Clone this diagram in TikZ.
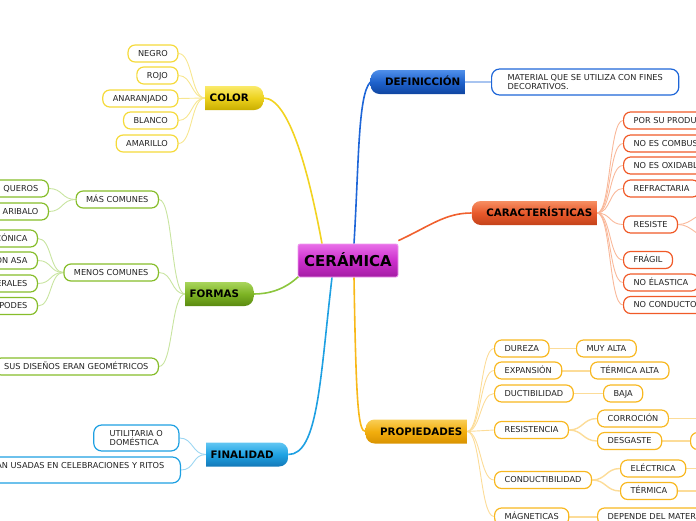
\documentclass[tikz,border=0pt]{standalone}
\usepackage{fontspec}
\setmainfont{DejaVu Sans}
\usetikzlibrary{calc}
\pgfdeclarelayer{bg}
\pgfsetlayers{bg,main}
% branch colours (top, middle, bottom), leaf borders, light twigs, root lines
\definecolor{yT}{HTML}{FAEA6A}\definecolor{yM}{HTML}{EDD21E}\definecolor{yB}{HTML}{C9AE00}
\definecolor{yLeaf}{HTML}{F5DA3A}\definecolor{yTwig}{HTML}{F7E690}\definecolor{yRoot}{HTML}{F2D320}
\definecolor{gT}{HTML}{A9D55C}\definecolor{gM}{HTML}{7DB324}\definecolor{gB}{HTML}{5A8A10}
\definecolor{gLeaf}{HTML}{86BD2A}\definecolor{gTwig}{HTML}{C8E4A0}\definecolor{gRoot}{HTML}{8CC63E}
\definecolor{cT}{HTML}{62C6F3}\definecolor{cM}{HTML}{1FA3E3}\definecolor{cB}{HTML}{1478B8}
\definecolor{cLeaf}{HTML}{1EA0E2}\definecolor{cTwig}{HTML}{9CD6F2}\definecolor{cRoot}{HTML}{1EA0E2}
\definecolor{bT}{HTML}{4F8FEA}\definecolor{bM}{HTML}{1F62CC}\definecolor{bB}{HTML}{0F45A0}
\definecolor{bLeaf}{HTML}{1E66D8}\definecolor{bTwig}{HTML}{A8C4F0}\definecolor{bRoot}{HTML}{1E66D8}
\definecolor{oT}{HTML}{F68E62}\definecolor{oM}{HTML}{E8592B}\definecolor{oB}{HTML}{C4421A}
\definecolor{oLeaf}{HTML}{F05A28}\definecolor{oTwig}{HTML}{F9B89A}\definecolor{oRoot}{HTML}{F0602E}
\definecolor{pT}{HTML}{F9CE56}\definecolor{pM}{HTML}{F2AE0E}\definecolor{pB}{HTML}{D99200}
\definecolor{pLeaf}{HTML}{F8B820}\definecolor{pTwig}{HTML}{FCDC98}\definecolor{pRoot}{HTML}{F8B818}
\definecolor{mT}{HTML}{E86EE8}\definecolor{mM}{HTML}{CC2FCC}\definecolor{mB}{HTML}{A41CA4}
\definecolor{mEdge}{HTML}{EE9AEE}
\definecolor{txt}{HTML}{222222}
\begin{document}
\begin{tikzpicture}[x=1pt,y=-1pt,
  centre/.style={draw=mEdge, line width=0.8pt, rounded corners=2pt,
    top color=mT, bottom color=mB, middle color=mM,
    minimum width=100pt, inner xsep=0pt, inner ysep=0pt,
    text height=22pt, text depth=11pt,
    font=\bfseries\fontsize{15}{17}\selectfont},
  branchL/.style n args={3}{font=\bfseries\fontsize{10.3}{12}\selectfont,
    inner xsep=4.5pt, inner ysep=0pt, text height=15.6pt, text depth=8.4pt,
    path picture={\shade[top color=#1, bottom color=#3, middle color=#2, rounded corners=9pt]
      ([xshift=-12pt]path picture bounding box.south west) rectangle (path picture bounding box.north east);}},
  branchR/.style n args={3}{font=\bfseries\fontsize{10.3}{12}\selectfont,
    inner xsep=4.5pt, inner ysep=0pt, text height=15.6pt, text depth=8.4pt,
    path picture={\shade[top color=#1, bottom color=#3, middle color=#2, rounded corners=9pt]
      (path picture bounding box.south west) rectangle ([xshift=12pt]path picture bounding box.north east);}},
  leaf/.style={draw=#1, line width=1.2pt, fill=white, rounded corners=7pt,
    inner xsep=10pt, inner ysep=0pt, text height=11pt, text depth=6pt,
    text=txt, font=\fontsize{8.2}{9.4}\selectfont},
  leafw/.style={draw=#1, line width=1.2pt, fill=white, rounded corners=8pt,
    inner xsep=16pt, inner ysep=3pt, minimum height=26pt, align=left,
    text=txt, font=\fontsize{8.2}{9.2}\selectfont},
  twig/.style={draw=#1, line width=0.9pt},
  stem/.style={draw=#1, line width=2pt},
  root/.style={draw=#1, line width=1.6pt}
]
\useasboundingbox (0,0) rectangle (696,520);
\clip (0,0) rectangle (696,520);

% ---------- centre ----------
\node[centre] (cer) at (348,260.5) {CERÁMICA};

% ---------- branches ----------
\node[branchL={yT}{yM}{yB}, anchor=west] (color) at (205,98) {COLOR\hspace*{10pt}};
\node[branchL={gT}{gM}{gB}, anchor=west] (formas) at (185,294) {FORMAS\hspace*{10pt}};
\node[branchL={cT}{cM}{cB}, anchor=west] (fin) at (206,454.5) {FINALIDAD\hspace*{10pt}};
\node[branchR={bT}{bM}{bB}, anchor=east] (defi) at (465,82) {\hspace*{10pt}DEFINICCIÓN};
\node[branchR={oT}{oM}{oB}, anchor=east] (char) at (597,213) {\hspace*{10pt}CARACTERÍSTICAS};
\node[branchR={pT}{pM}{pB}, anchor=east] (prop) at (467,431.5) {\hspace*{10pt}PROPIEDADES};

% ---------- COLOR leaves ----------
\node[leaf=yLeaf, anchor=east] (negro) at (178.5,53.5) {NEGRO};
\node[leaf=yLeaf, anchor=east] (rojo) at (178.5,75.5) {ROJO};
\node[leaf=yLeaf, anchor=east] (anaranjado) at (178.5,98.5) {ANARANJADO};
\node[leaf=yLeaf, anchor=east] (blanco) at (178.5,120.5) {BLANCO};
\node[leaf=yLeaf, anchor=east] (amarillo) at (178.5,143.5) {AMARILLO};

% ---------- FORMAS leaves ----------
\node[leaf=gLeaf, anchor=east] (mas) at (159,199.5) {MÁS COMUNES};
\node[leaf=gLeaf, anchor=east] (queros) at (49,188.5) {QUEROS};
\node[leaf=gLeaf, anchor=east] (aribalo) at (49,211.5) {ARIBALO};
\node[leaf=gLeaf, anchor=east] (menos) at (159,272.5) {MENOS COMUNES};
\node[leaf=gLeaf, anchor=east] (conica) at (38,238.5) {BOTELLA CÓNICA};
\node[leaf=gLeaf, anchor=east] (asa) at (38,260.5) {CÁNTARO CON ASA};
\node[leaf=gLeaf, anchor=east] (erales) at (38,283.5) {ASAS LATERALES};
\node[leaf=gLeaf, anchor=east] (podes) at (38,306) {OLLAS TRÍPODES};
\node[leaf=gLeaf, anchor=east] (disenos) at (159,366.5) {SUS DISEÑOS ERAN GEOMÉTRICOS};

% ---------- FINALIDAD leaves ----------
\node[leafw=cLeaf, anchor=east] (util) at (179.5,438) {UTILITARIA O\\DOMÉSTICA};
\node[leaf=cLeaf, anchor=east, inner xsep=16pt, rounded corners=8pt, text height=11.5pt, text depth=14.5pt] (ritos) at (181,470) {ERAN USADAS EN CELEBRACIONES Y RITOS};

% ---------- DEFINICCIÓN leaf ----------
\node[leafw=bLeaf, anchor=west] (material) at (491,82) {MATERIAL QUE SE UTILIZA CON FINES\\DECORATIVOS.};

% ---------- CARACTERÍSTICAS leaves ----------
\node[leaf=oLeaf, anchor=west] (produ) at (623,120.5) {POR SU PRODUCCIÓN};
\node[leaf=oLeaf, anchor=west] (combus) at (623,143.5) {NO ES COMBUSTIBLE};
\node[leaf=oLeaf, anchor=west] (oxida) at (623,165.5) {NO ES OXIDABLE};
\node[leaf=oLeaf, anchor=west] (refra) at (623,188.5) {REFRACTARIA};
\node[leaf=oLeaf, anchor=west] (resiste) at (623,224.5) {RESISTE};
\node[leaf=oLeaf, anchor=west] (fragil) at (623,260) {FRÁGIL};
\node[leaf=oLeaf, anchor=west] (elastica) at (623,282.5) {NO ÉLASTICA};
\node[leaf=oLeaf, anchor=west] (conduc) at (623,305) {NO CONDUCTORA};
\coordinate (resA) at (712,211);
\coordinate (resB) at (712,239);

% ---------- PROPIEDADES leaves ----------
\node[leaf=pLeaf, anchor=west] (dureza) at (494,348.5) {DUREZA};
\node[leaf=pLeaf, anchor=west] (muyalta) at (576,348.5) {MUY ALTA};
\node[leaf=pLeaf, anchor=west] (expan) at (494,370.5) {EXPANSIÓN};
\node[leaf=pLeaf, anchor=west] (termalta) at (590,370.5) {TÉRMICA ALTA};
\node[leaf=pLeaf, anchor=west] (ductil) at (494,393.5) {DUCTIBILIDAD};
\node[leaf=pLeaf, anchor=west] (baja) at (603,393.5) {BAJA};
\node[leaf=pLeaf, anchor=west] (resist) at (494,430) {RESISTENCIA};
\node[leaf=pLeaf, anchor=west] (corro) at (597,418.5) {CORROCIÓN};
\node[leaf=pLeaf, anchor=west] (desgaste) at (597,441) {DESGASTE};
\node[leaf=pLeaf, anchor=west, minimum width=50pt] (desg2) at (690,441) {};
\node[leaf=pLeaf, anchor=west] (conducti) at (494,480) {CONDUCTIBILIDAD};
\node[leaf=pLeaf, anchor=west] (electrica) at (620,468.5) {ELÉCTRICA};
\node[leaf=pLeaf, anchor=west] (termica) at (620,491) {TÉRMICA};
\node[leaf=pLeaf, anchor=west] (magne) at (494,516.5) {MÁGNETICAS};
\node[leaf=pLeaf, anchor=west] (depende) at (597,516.5) {DEPENDE DEL MATERIAL};
\coordinate (corroEnd) at (720,418.5);
\coordinate (elecEnd) at (720,468.5);
\coordinate (termEnd) at (720,491);

% ---------- connectors ----------
\begin{pgfonlayer}{bg}
\clip (0,0) rectangle (696,520);
% root lines
\draw[root=yRoot] (color.east) .. controls (292,98) and (312,190) .. ([xshift=-26pt]cer.north);
\draw[root=bRoot] ([xshift=6pt]cer.north) .. controls (359,160) and (358,95) .. (defi.west);
\draw[root=oRoot] ([yshift=3pt]cer.north east) .. controls (430,226) and (445,213) .. (char.west);
\draw[root=pRoot] ([xshift=6pt]cer.south) .. controls (356,400) and (358,431.5) .. (prop.west);
\draw[root=cRoot] ([xshift=-16pt]cer.south) .. controls (320,380) and (318,454.5) .. (fin.east);
\draw[root=gRoot] ([xshift=2pt,yshift=2pt]cer.south west) .. controls (285,290) and (268,294) .. (formas.east);
% COLOR
\foreach \n in {negro,rojo,anaranjado,blanco,amarillo}
  \draw[twig=yTwig] (color.west) .. controls +(-14,0) and +(14,0) .. (\n.east);
% FORMAS
\foreach \n in {mas,menos,disenos}
  \draw[twig=gTwig] (formas.west) .. controls +(-14,0) and +(14,0) .. (\n.east);
\foreach \n in {queros,aribalo}
  \draw[twig=gTwig] (mas.west) .. controls +(-14,0) and +(14,0) .. (\n.east);
\foreach \n in {conica,asa,erales,podes}
  \draw[twig=gTwig] (menos.west) .. controls +(-14,0) and +(14,0) .. (\n.east);
% FINALIDAD
\foreach \n in {util,ritos}
  \draw[twig=cTwig] (fin.west) .. controls +(-14,0) and +(14,0) .. (\n.east);
% DEFINICCIÓN
\draw[stem=bTwig, line width=1.4pt] (defi.east) -- (material.west);
% CARACTERÍSTICAS
\foreach \n in {produ,combus,oxida,refra,resiste,fragil,elastica,conduc}
  \draw[twig=oTwig] (char.east) .. controls +(14,0) and +(-14,0) .. (\n.west);
\foreach \n in {resA,resB}
  \draw[twig=oTwig] (resiste.east) .. controls +(14,0) and +(-14,0) .. (\n);
% PROPIEDADES
\foreach \n in {dureza,expan,ductil,resist,conducti,magne}
  \draw[twig=pTwig] (prop.east) .. controls +(14,0) and +(-14,0) .. (\n.west);
\draw[stem=pTwig, line width=1.4pt] (dureza.east) -- (muyalta.west);
\draw[stem=pTwig] (expan.east) -- (termalta.west);
\draw[stem=pTwig, line width=1.4pt] (ductil.east) -- (baja.west);
\foreach \n in {corro,desgaste}
  \draw[stem=pTwig, line width=1.4pt] (resist.east) .. controls +(14,0) and +(-14,0) .. (\n.west);
\foreach \n in {electrica,termica}
  \draw[stem=pTwig, line width=1.4pt] (conducti.east) .. controls +(14,0) and +(-14,0) .. (\n.west);
\draw[stem=pTwig, line width=1.4pt] (corro.east) -- (corroEnd);
\draw[stem=pTwig] (desgaste.east) -- (desg2.west);
\draw[stem=pTwig, line width=1.4pt] (electrica.east) -- (elecEnd);
\draw[stem=pTwig, line width=1.4pt] (termica.east) -- (termEnd);
\draw[stem=pTwig] (magne.east) -- (depende.west);
\end{pgfonlayer}
\end{tikzpicture}
\end{document}
